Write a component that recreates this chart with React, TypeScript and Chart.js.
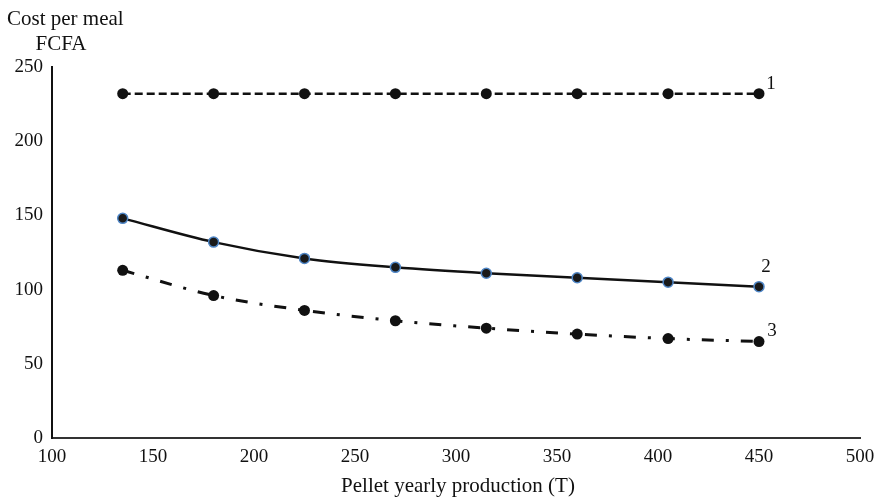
import React, { useEffect, useRef } from "react";
import { Chart, registerables } from "chart.js";

Chart.register(...registerables);

const xValues = [135, 180, 225, 270, 315, 360, 405, 450];
const series1 = [232, 232, 232, 232, 232, 232, 232, 232];
const series2 = [148, 132, 121, 115, 111, 108, 105, 102];
const series3 = [113, 96, 86, 79, 74, 70, 67, 65];
const seriesLabels = ["1", "2", "3"];
const yTitleLines = ["Cost per meal", "FCFA"];
const xTitle = "Pellet yearly production (T)";

const FONT = "'Liberation Serif', 'Times New Roman', serif";

const toPoints = (ys: number[]) => xValues.map((x, i) => ({ x, y: ys[i] }));

const textPlugin = {
  id: "textPlugin",
  afterDraw(chart: any) {
    const { ctx, scales, chartArea } = chart;
    ctx.save();
    ctx.fillStyle = "#111";
    ctx.font = `21px ${FONT}`;
    ctx.textBaseline = "alphabetic";
    ctx.textAlign = "left";
    ctx.fillText(yTitleLines[0], 7, 25);
    ctx.textAlign = "center";
    ctx.fillText(yTitleLines[1], 61, 50);
    ctx.fillText(xTitle, (chartArea.left + chartArea.right) / 2 + 2, 492);
    const offsets = [
      { dx: 12, dy: -10 },
      { dx: 7, dy: -20 },
      { dx: 13, dy: -11 },
    ];
    chart.data.datasets.forEach((ds: any, i: number) => {
      const last = ds.data[ds.data.length - 1];
      const px = scales.x.getPixelForValue(last.x);
      const py = scales.y.getPixelForValue(last.y);
      ctx.textAlign = "center";
      ctx.textBaseline = "middle";
      ctx.font = `19px ${FONT}`;
      ctx.fillText(seriesLabels[i], px + offsets[i].dx, py + offsets[i].dy);
    });
    ctx.restore();
  },
};

export default function App() {
  const ref = useRef<HTMLCanvasElement | null>(null);
  useEffect(() => {
    if (!ref.current) return;
    const chart = new Chart(ref.current, {
      type: "line",
      data: {
        datasets: [
          {
            label: "1",
            data: toPoints(series1),
            borderColor: "#111",
            borderWidth: 2.5,
            borderDash: [8, 4],
            pointRadius: 5.5,
            pointBackgroundColor: "#111",
            pointBorderColor: "#111",
            pointBorderWidth: 0,
            tension: 0,
          },
          {
            label: "2",
            data: toPoints(series2),
            borderColor: "#111",
            borderWidth: 2.5,
            pointRadius: 5,
            pointBackgroundColor: "#1a1a1a",
            pointBorderColor: "#4f86c6",
            pointBorderWidth: 1.5,
            cubicInterpolationMode: "monotone",
          },
          {
            label: "3",
            data: toPoints(series3),
            borderColor: "#111",
            borderWidth: 3,
            borderDash: [12, 12, 3, 12],
            pointRadius: 5.5,
            pointBackgroundColor: "#111",
            pointBorderColor: "#111",
            pointBorderWidth: 0,
            cubicInterpolationMode: "monotone",
          },
        ],
      },
      options: {
        animation: false,
        responsive: true,
        maintainAspectRatio: false,
        layout: { padding: { top: 67, right: 23, left: 0, bottom: 0 } },
        plugins: { legend: { display: false }, tooltip: { enabled: false } },
        scales: {
          x: {
            type: "linear",
            min: 100,
            max: 500,
            grid: { display: false, drawTicks: false },
            border: { display: true, color: "#333", width: 2 },
            ticks: {
              stepSize: 50,
              color: "#111",
              padding: 8,
              maxRotation: 0,
              font: { family: FONT, size: 19 },
            },
            afterFit(scale: any) {
              scale.height = 61;
            },
          },
          y: {
            min: 0,
            max: 250,
            grid: { display: false, drawTicks: false },
            border: { display: true, color: "#111", width: 2 },
            ticks: {
              stepSize: 50,
              color: "#111",
              padding: 9,
              font: { family: FONT, size: 19 },
            },
            afterFit(scale: any) {
              scale.width = 52;
            },
          },
        },
      },
      plugins: [textPlugin],
    } as any);
    return () => chart.destroy();
  }, []);
  return (
    <div style={{ position: "fixed", left: 0, top: 0, width: 883, height: 499, background: "#fff" }}>
      <canvas ref={ref} />
    </div>
  );
}
